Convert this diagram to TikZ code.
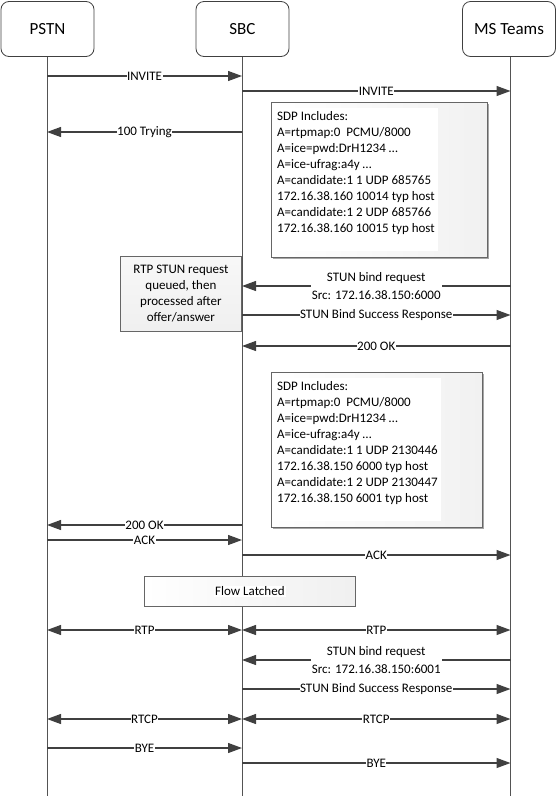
\documentclass[tikz,border=0pt]{standalone}
\usepackage{fontspec}
\setmainfont{Carlito}
\usetikzlibrary{arrows.meta,shadows}
\definecolor{ln}{HTML}{404040}
\begin{document}
\begin{tikzpicture}[x=1pt,y=-1pt,
  actor/.style={draw=ln, rounded corners=8pt, minimum width=93pt, minimum height=55pt, inner sep=0pt, font=\fontsize{17}{19}\selectfont, line width=0.8pt, fill=white},
  life/.style={draw=ln!90, line width=1pt},
  msg/.style={draw=ln, line width=1.2pt, -{Triangle[length=14pt,width=10pt]}},
  both/.style={draw=ln, line width=1.2pt, {Triangle[length=14pt,width=10pt]}-{Triangle[length=14pt,width=10pt]}},
  lbl/.style={fill=white, inner sep=0.5pt, font=\fontsize{13}{15}\selectfont},
  lbl2/.style={fill=white, inner sep=1pt, align=center, font=\fontsize{13}{17.5}\selectfont},
  sdpbox/.style={draw=ln!80, line width=0.8pt, left color=white, right color=gray!11, anchor=north west, inner sep=0pt, drop shadow={shadow xshift=2pt, shadow yshift=-2pt, fill=gray!70, opacity=1}},
  sdptext/.style={fill=white, anchor=north west, align=left, inner sep=3pt, font=\fontsize{13}{16}\selectfont},
  notebox/.style={draw=ln!80, line width=0.8pt, top color=gray!6, bottom color=gray!12, anchor=north west, inner sep=0pt, align=center, font=\fontsize{13}{16}\selectfont},
  flowbox/.style={draw=ln!80, line width=0.8pt, left color=white, right color=gray!12, anchor=north west, inner sep=0pt}
]
\useasboundingbox (0,0) rectangle (556,796);

% actors
\node[actor] (pstn) at (47.5,29) {PSTN};
\node[actor] (sbc) at (242.5,29) {SBC};
\node[actor] (teams) at (509,29) {MS Teams};

% lifelines
\coordinate (pend) at (47,796);
\coordinate (send) at (242,796);
\coordinate (tend) at (510.5,796);
\draw[life] (pstn.south -| pend) -- (pend);
\draw[life] (sbc.south -| send) -- (send);
\draw[life] (teams.south -| tend) -- (tend);

% SDP box 1
\node[sdpbox, minimum width=216, minimum height=155] (sdp1) at (271,102) {};
\node[sdptext] (sdp1t) at (274,108) {SDP Includes:\\A=rtpmap:0\ \ PCMU/8000\\A=ice=pwd:DrH1234 \ldots\\A=ice-ufrag:a4y \ldots\\A=candidate:1 1 UDP 685765\\172.16.38.160 10014 typ host\\A=candidate:1 2 UDP 685766\\172.16.38.160 10015 typ host\\[0pt]\mbox{}};

% SDP box 2
\node[sdpbox, minimum width=211, minimum height=155] (sdp2) at (271,372) {};
\node[sdptext] (sdp2t) at (274,378) {SDP Includes:\\A=rtpmap:0\ \ PCMU/8000\\A=ice=pwd:DrH1234 \ldots\\A=ice-ufrag:a4y \ldots\\A=candidate:1 1 UDP 2130446\\172.16.38.150 6000 typ host\\A=candidate:1 2 UDP 2130447\\172.16.38.150 6001 typ host\\[0pt]\mbox{}};

% note box
\node[notebox, minimum width=121, minimum height=75] (note) at (120,256) {RTP STUN request\\queued, then\\processed after\\offer/answer};

% flow latched
\node[flowbox, minimum width=211, minimum height=30] (flow) at (144,576) {};
\node[fill=white, inner sep=1pt, font=\fontsize{13}{15}\selectfont] (flowt) at (flow.center) {Flow Latched};

% message points
\coordinate (p1) at (47,76);   \coordinate (s1) at (242,76);
\coordinate (s2) at (242,91);  \coordinate (t2) at (510.5,91);
\coordinate (s3) at (242,132); \coordinate (p3) at (47,132);
\coordinate (t4) at (510.5,286); \coordinate (s4) at (242,286);
\coordinate (s5) at (242,315); \coordinate (t5) at (510.5,315);
\coordinate (t6) at (510.5,346); \coordinate (s6) at (242,346);
\coordinate (s7) at (242,525); \coordinate (p7) at (47,525);
\coordinate (p8) at (47,540);  \coordinate (s8) at (242,540);
\coordinate (s9) at (242,555); \coordinate (t9) at (510.5,555);
\coordinate (p10) at (47,630); \coordinate (s10) at (242,630); \coordinate (t10) at (510.5,630);
\coordinate (t11) at (510.5,660); \coordinate (s11) at (242,660);
\coordinate (s12) at (242,689); \coordinate (t12) at (510.5,689);
\coordinate (p13) at (47,719); \coordinate (s13) at (242,719); \coordinate (t13) at (510.5,719);
\coordinate (p14) at (47,748); \coordinate (s14) at (242,748);
\coordinate (s15) at (242,763); \coordinate (t15) at (510.5,763);

\draw[msg] (p1) -- node[lbl] {INVITE} (s1);
\draw[msg] (s2) -- node[lbl] {INVITE} (t2);
\draw[msg] (s3) -- node[lbl] {100 Trying} (p3);
\draw[msg] (t4) -- node[lbl2] {STUN bind request\\Src: 172.16.38.150:6000} (s4);
\draw[msg] (s5) -- node[lbl] {STUN Bind Success Response} (t5);
\draw[msg] (t6) -- node[lbl] {200 OK} (s6);
\draw[msg] (s7) -- node[lbl] {200 OK} (p7);
\draw[msg] (p8) -- node[lbl] {ACK} (s8);
\draw[msg] (s9) -- node[lbl] {ACK} (t9);
\draw[both] (p10) -- node[lbl] {RTP} (s10);
\draw[both] (s10) -- node[lbl] {RTP} (t10);
\draw[msg] (t11) -- node[lbl2] {STUN bind request\\Src: 172.16.38.150:6001} (s11);
\draw[msg] (s12) -- node[lbl] {STUN Bind Success Response} (t12);
\draw[both] (p13) -- node[lbl] {RTCP} (s13);
\draw[both] (s13) -- node[lbl] {RTCP} (t13);
\draw[msg] (p14) -- node[lbl] {BYE} (s14);
\draw[msg] (s15) -- node[lbl] {BYE} (t15);
\end{tikzpicture}
\end{document}
